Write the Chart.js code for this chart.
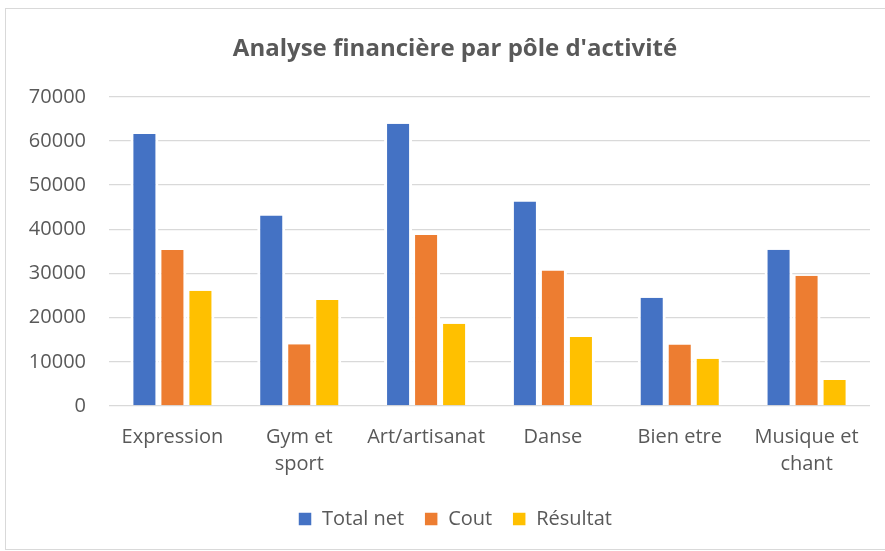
<!DOCTYPE html>
<html>
<head>
<meta charset="utf-8">
<script src="https://cdn.jsdelivr.net/npm/chart.js@4/dist/chart.umd.min.js"></script>
<style>
  html, body { margin: 0; padding: 0; background: #fff; overflow: hidden; }
  #wrap { position: relative; width: 885px; height: 551px; overflow: hidden; }
  #frame { position: absolute; left: 5px; top: 8px; width: 900px; height: 540px; border: 1px solid #d9d9d9; }
  #chart-canvas { position: absolute; left: 0; top: 0; }
</style>
</head>
<body>
<div id="wrap">
  <div id="frame"></div>
  <canvas id="chart-canvas" width="905" height="551"></canvas>
</div>
<script>
const categories = ["Expression", ["Gym et", "sport"], "Art/artisanat", "Danse", "Bien etre", ["Musique et", "chant"]];
const totalNet = [61600, 43100, 63900, 46300, 24500, 35400];
const cout = [35300, 14000, 38700, 30700, 13900, 29500];
const resultat = [26100, 24000, 18600, 15600, 10700, 5900];
const yTicks = [0, 10000, 20000, 30000, 40000, 50000, 60000, 70000];

const textColor = "#595959";
const fontFamily = "'Open Sans', sans-serif";

function makeDataset(label, data, color) {
  return {
    label: label,
    data: data,
    backgroundColor: color,
    borderColor: "#ffffff",
    borderWidth: { left: 3, right: 3, top: 0, bottom: 0 },
    categoryPercentage: 0.6625,
    barPercentage: 1
  };
}

// y labels sit left of the layout padding, so widen their clip box
const unclipYLabels = {
  id: "unclipYLabels",
  afterLayout(chart) {
    chart.scales.y.left = 0;
  }
};

const ctx = document.getElementById("chart-canvas").getContext("2d");

new Chart(ctx, {
  type: "bar",
  data: {
    labels: categories,
    datasets: [
      makeDataset("Total net", totalNet, "#4472C4"),
      makeDataset("Cout", cout, "#ED7D31"),
      makeDataset("Résultat", resultat, "#FFC000")
    ]
  },
  plugins: [unclipYLabels],
  options: {
    responsive: false,
    animation: false,
    layout: { padding: { left: 40, right: 35, top: 0, bottom: 12 } },
    plugins: {
      tooltip: { enabled: false },
      title: {
        display: true,
        text: "Analyse financière par pôle d'activité",
        color: textColor,
        font: { family: fontFamily, size: 24, weight: "bold", lineHeight: 1.2 },
        padding: { top: 35, bottom: 33 }
      },
      legend: {
        position: "bottom",
        labels: {
          color: textColor,
          font: { family: fontFamily, size: 20 },
          boxWidth: 14,
          boxHeight: 14,
          padding: 20
        }
      }
    },
    scales: {
      x: {
        grid: { display: false },
        border: { display: false },
        ticks: {
          color: textColor,
          font: { family: fontFamily, size: 20, lineHeight: 1.35 },
          padding: 10,
          maxRotation: 0,
          autoSkip: false
        },
        afterFit: function(scale) { scale.height = 83; }
      },
      y: {
        min: 0,
        max: 70000,
        border: { display: false },
        grid: { color: "#d9d9d9", lineWidth: 1.3, drawTicks: false },
        afterBuildTicks: function(scale) {
          scale.ticks = yTicks.map(v => ({ value: v }));
        },
        ticks: {
          color: textColor,
          font: { family: fontFamily, size: 20 },
          padding: 23,
          callback: function(value) { return String(value); }
        },
        afterFit: function(scale) { scale.width = 69; }
      }
    }
  }
});
</script>
</body>
</html>
